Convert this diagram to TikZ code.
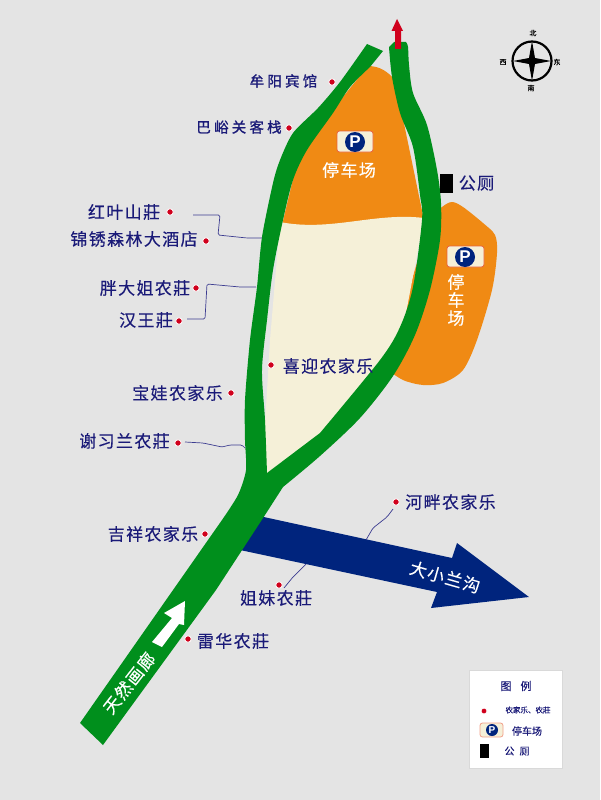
\documentclass[tikz,border=0pt]{standalone}
\usepackage{fontspec}
\setmainfont{Noto Sans CJK SC}
\newfontfamily\cjkA[LetterSpace=8,FakeBold=0.25]{Noto Sans CJK SC}
\newfontfamily\cjkB[LetterSpace=22,FakeBold=1.2]{Noto Sans CJK SC}
\newfontfamily\cjkT[FakeBold=0.3]{Noto Sans CJK SC}
\newfontfamily\cjkM{Liberation Sans}
\definecolor{bgc}{HTML}{E4E4E4}
\definecolor{roadc}{HTML}{008F1C}
\definecolor{orangec}{HTML}{F08A14}
\definecolor{creamc}{HTML}{F5F0D8}
\definecolor{navyc}{HTML}{00247D}
\definecolor{inkc}{HTML}{1A1A78}
\definecolor{dotc}{HTML}{D0001C}
\definecolor{leadc}{HTML}{3C3C90}
\definecolor{signb}{HTML}{E8603C}
\tikzset{
  x=1pt,y=-1pt,
  lab/.style={inner sep=0pt,text=inkc,font=\fontsize{17}{17}\selectfont\cjkA},
  labk/.style={inner sep=0pt,text=inkc,font=\fontsize{14.5}{15}\selectfont\cjkB},
  wht/.style={inner sep=0pt,text=white,font=\fontsize{17}{17}\selectfont\cjkA},
  dot/.style={circle,fill=dotc,draw=white,line width=.8pt,inner sep=0pt,minimum size=6.5pt},
  leader/.style={draw=leadc,line width=.7pt,rounded corners=1.5pt},
  signbox/.style={draw=signb,fill=creamc,rounded corners=2.5pt,line width=.8pt,inner sep=0pt},
  pcirc/.style={circle,fill=navyc,text=white,inner sep=0pt,font=\fontsize{17}{17}\selectfont\bfseries\cjkM},
  dirlab/.style={inner sep=0pt,text=black,font=\fontsize{7}{7}\selectfont\cjkT},
  leg/.style={inner sep=0pt,text=inkc,font=\fontsize{10}{10}\selectfont\cjkT},
}
\begin{document}
\begin{tikzpicture}
\useasboundingbox (0,0) rectangle (600,800);
\fill[bgc] (0,0) rectangle (600,800);
% orange parking areas
\fill[orangec] (368,66) .. controls (380,66) and (388,72) .. (395,80) -- (425,225) -- (282,225) -- (300,150) -- cycle;
\fill[orangec] plot[smooth,tension=.5] coordinates {(430,220) (442,207) (452,202) (463,207) (483,223) (495,235) (497,253) (492,290) (477,340) (463,370) (443,383) (423,385) (403,380) (385,368)} -- cycle;
% cream field
\fill[creamc] (270,340) -- (280,222) .. controls (330,232) and (375,212) .. (424,218) -- (400,345) -- (300,470) -- (262,475) -- cycle;
% blue arrow
\fill[navyc] (250,514) -- (452,558) -- (457,543) -- (529,597) -- (431,608) -- (437,592) -- (240,550) -- cycle;
% green road
\fill[roadc] (367,44)
  -- plot[smooth,tension=.45] coordinates {(367,44) (340,82) (318,108) (293,133) (280,160) (273,183) (262,237) (257,287) (250,340) (245,400) (245,440) (246,470) (238,495) (222,520)}
  -- (80,723) -- (103,745) -- (216,590) -- (265,515) -- (283,487)
  -- plot[smooth,tension=.5] coordinates {(283,487) (320,456) (360,418) (393,376) (415,335) (430,290) (440,240) (441,203) (437,170) (427,125) (413,93) (409,65) (408,47) (406,42)}
  -- (394,42) -- (389,47)
  -- plot[smooth,tension=.5] coordinates {(389,47) (392,77) (400,113) (413,147) (420,195) (422,220) (413,287) (400,327) (380,360) (320,433)}
  -- (267,473)
  -- plot[smooth,tension=.5] coordinates {(267,473) (265,420) (262,370) (267,320) (273,270) (283,220) (293,180) (307,150) (333,113) (350,87) (370,67)}
  -- (383,51) -- cycle;
% white road arrow
\fill[white] (185,601) -- (164,613) -- (172,618) -- (152,642) -- (162,647) -- (179,624) -- (184,625) -- cycle;
% red north arrow
\fill[dotc] (397,19) -- (403,31) -- (401,31) -- (401,49) -- (395,49) -- (395,31) -- (391.5,31) -- cycle;
% parking signs
\node[signbox,minimum width=36pt,minimum height=21pt] (sign1) at (355,141.5) {};
\node[pcirc,minimum size=20pt] (p1) at (355,142) {P};
\node[wht] (park1) at (349,170) {停车场};
\node[signbox,minimum width=37pt,minimum height=21pt] (sign2) at (465.5,256.5) {};
\node[pcirc,minimum size=20pt] (p2) at (465,257) {P};
\node[wht,align=center] (park2) at (456,300) {停\\[1pt]车\\[1pt]场};
% toilet
\fill[black] (440,174) rectangle (453,193);
\node[lab] (wc) at (476.5,183) {公厕};
% road and river names
\node[wht,rotate=52] (road) at (129,683) {天然画廊};
\node[wht,rotate=-16] (river) at (445,577) {大小兰沟};
% labels and dots
\node[labk] (a1) at (283.5,81) {牟阳宾馆};
\node[dot] (d1) at (332,82) {};
\node[labk] (a2) at (239,127) {巴峪关客栈};
\node[dot] (d2) at (289,128) {};
\node[lab] (a3) at (124,212) {红叶山莊};
\node[dot] (d3) at (170,212) {};
\node[lab] (a4) at (134,239) {锦锈森林大酒店};
\node[dot] (d4) at (206,241) {};
\node[lab] (a5) at (145,288) {胖大姐农莊};
\node[dot] (d5) at (196,288) {};
\node[lab] (a6) at (146,320) {汉王莊};
\node[dot] (d6) at (179,321) {};
\node[lab] (a7) at (328,366) {喜迎农家乐};
\node[dot] (d7) at (271,365) {};
\node[lab] (a8) at (177.5,393) {宝娃农家乐};
\node[dot] (d8) at (231,393) {};
\node[lab] (a9) at (124.5,441) {谢习兰农莊};
\node[dot] (d9) at (178,443) {};
\node[lab] (a10) at (153,534) {吉祥农家乐};
\node[dot] (d10) at (205,534) {};
\node[lab] (a11) at (450.5,502) {河畔农家乐};
\node[dot] (d11) at (396,502) {};
\node[lab] (a12) at (276,598) {姐妹农莊};
\node[dot] (d12) at (279,585) {};
\node[lab] (a13) at (233,641) {雷华农莊};
\node[dot] (d13) at (188,639) {};
% leaders
\coordinate (l1a) at (193,215);
\coordinate (l1b) at (262,238);
\coordinate (l2a) at (187,319);
\coordinate (l2b) at (256,287);
\coordinate (l3a) at (185,442);
\coordinate (l3b) at (245,448);
\coordinate (l4a) at (393,509);
\coordinate (l4b) at (366,540);
\coordinate (l5a) at (306,564);
\coordinate (l5b) at (284,588);
\draw[leader] (l1a) -- (220,215) -- (218,235) -- (247,238) -- (l1b);
\draw[leader] (l2a) -- (205,319) -- (207,284) -- (240,287) -- (l2b);
\draw[leader] (l3a) -- (203,443) -- (222,447) -- (230,445) -- (242,445) -- (l3b);
\draw[leader] (l4a) -- (387,517) -- (373,528) -- (l4b);
\draw[leader] (l5a) -- (293,577) -- (l5b);
% compass
\draw[black,line width=2.2pt] (532,61) circle (19.5);
\fill[black] (532,41) -- (535,58) -- (551,61) -- (535,64) -- (532,81) -- (529,64) -- (513,61) -- (529,58) -- cycle;
\node[dirlab] (n) at (533,33) {北};
\node[dirlab] (s) at (531,88) {南};
\node[dirlab] (w) at (503,62) {西};
\node[dirlab] (e) at (557,62) {东};
% legend
\node[draw=white!85!black,fill=white,line width=.7pt,minimum width=93pt,minimum height=98pt,inner sep=0pt] (legbox) at (515.5,719) {};
\node[inner sep=0pt,text=inkc,font=\fontsize{11}{11}\selectfont\cjkT] (legt) at (516,686) {图\hspace{9pt}例};
\node[dot,minimum size=6pt] (legd) at (484,711) {};
\node[inner sep=0pt,text=inkc,font=\fontsize{7.5}{7.5}\selectfont\cjkT] (legf) at (528,710) {农家乐、农莊};
\node[signbox,fill=creamc,minimum width=23pt,minimum height=14pt,draw=signb!60] (legs) at (491.5,730) {};
\node[pcirc,minimum size=12pt,font=\fontsize{10}{10}\selectfont\bfseries\cjkM] (legp) at (492,730) {P};
\node[leg] (legpk) at (527,731) {停车场};
\fill[black] (480,744) rectangle (489,758);
\node[leg] (legw) at (517,751) {公\hspace{5pt}厕};
\end{tikzpicture}
\end{document}
